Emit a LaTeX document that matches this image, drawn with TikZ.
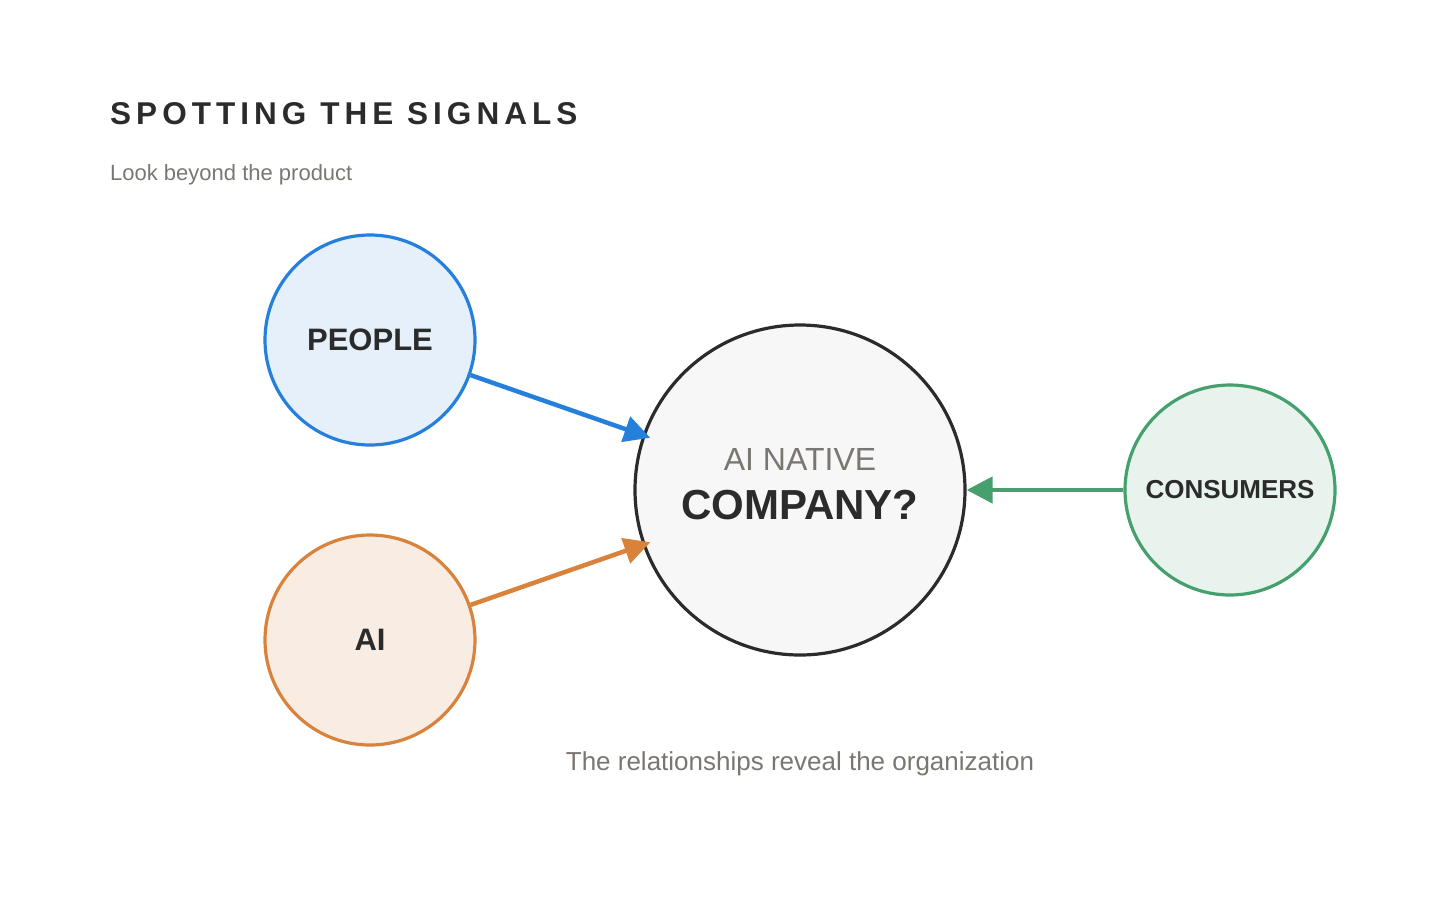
\documentclass[tikz,border=0pt]{standalone}
\usepackage{fontspec}
\setmainfont{Liberation Sans}
\newfontfamily\spaced[LetterSpace=16]{Liberation Sans}
\usetikzlibrary{arrows.meta}
\definecolor{ink}{HTML}{2B2B2B}
\definecolor{muted}{HTML}{7A7772}
\definecolor{bluec}{HTML}{2580DC}
\definecolor{orangec}{HTML}{D9823C}
\definecolor{greenc}{HTML}{45A06E}
\begin{document}
\begin{tikzpicture}[x=1pt,y=-1pt]
\tikzset{
  actor/.style={circle,minimum size=210pt,inner sep=0pt,line width=3.2pt,text=ink,font=\fontsize{31}{31}\selectfont\bfseries},
  link/.style={line width=4.5pt,shorten >=-8pt,-{Triangle[length=26pt,width=26pt]}}
}
\useasboundingbox (0,0) rectangle (1440,900);
\node[anchor=base west,text=ink,font=\fontsize{31.5}{31.5}\selectfont\bfseries\spaced,inner sep=0pt] (title) at (110,124) {SPOTTING THE SIGNALS};
\node[anchor=base west,text=muted,font=\fontsize{22}{22}\selectfont,inner sep=0pt] (sub) at (110,180) {Look beyond the product};
\node[actor,draw=bluec,fill=bluec!12] (people) at (370,340) {PEOPLE};
\node[actor,draw=orangec,fill=orangec!15] (ai) at (370,640) {AI};
\node[actor,draw=greenc,fill=greenc!13,font=\fontsize{26}{26}\selectfont\bfseries] (consumers) at (1230,490) {CONSUMERS};
\node[circle,minimum size=330pt,line width=3.2pt,draw=ink,fill=black!3] (company) at (800,490) {};
\node[text=muted,font=\fontsize{32}{32}\selectfont,inner sep=0pt] (native) at (800,459) {AI NATIVE};
\node[text=ink,font=\fontsize{42}{42}\selectfont\bfseries,inner sep=0pt] (q) at (800,505) {COMPANY?};
\draw[link,bluec] (people) -- (company);
\draw[link,orangec] (ai) -- (company);
\draw[link,greenc,shorten >=0pt] (consumers) -- (company);
\node[text=muted,font=\fontsize{26}{26}\selectfont,inner sep=0pt] (foot) at (800,764) {The relationships reveal the organization};
\end{tikzpicture}
\end{document}
